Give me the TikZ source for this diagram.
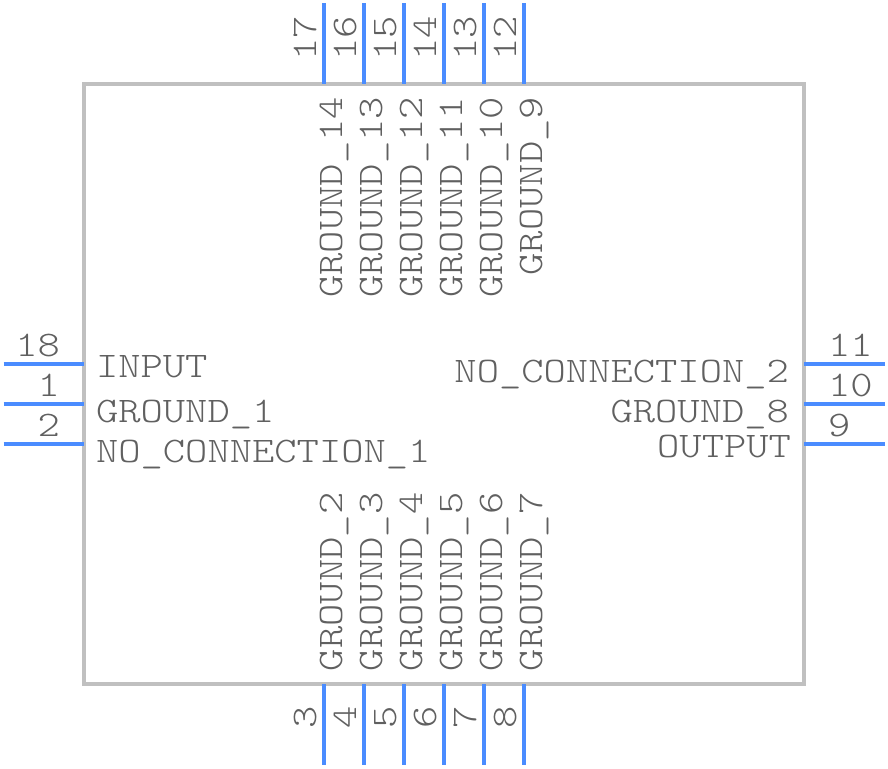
\documentclass[tikz,border=0pt]{standalone}
\usepackage{fontspec}
\usepackage{xcolor}
\usetikzlibrary{positioning}
\definecolor{pinblue}{HTML}{4A8CFF}
\definecolor{bodygray}{HTML}{C0C0C0}
\definecolor{textgray}{HTML}{606060}
\newfontfamily\pinfam[FakeStretch=1.18]{Latin Modern Mono Light}
\newcommand{\pinfont}{\pinfam\fontsize{36}{36}\selectfont}

\begin{document}
\begin{tikzpicture}[
        x=1pt, y=-1pt,
        body/.style={rectangle, draw=bodygray, line width=4pt, minimum width=720pt, minimum height=600pt, outer sep=0pt},
        pin/.style={draw=pinblue, line width=4pt},
        label/.style={text=textgray, font=\pinfont, inner sep=0pt, outer sep=0pt},
        upbegin/.style={label, rotate=90, anchor=base west},
        upend/.style={label, rotate=90, anchor=base east},
        leftlab/.style={label, anchor=base west},
        rightlab/.style={label, anchor=base east},
    ]
        \useasboundingbox (0,0) rectangle (888,768);

        % Package outline
        \node[body] (pkg) at (444,384) {};

        % Free pin ends
        \coordinate (t17) at (324,3.5);
        \coordinate (t16) at (364,3.5);
        \coordinate (t15) at (404,3.5);
        \coordinate (t14) at (444,3.5);
        \coordinate (t13) at (484,3.5);
        \coordinate (t12) at (524,3.5);
        \coordinate (b3) at (324,764.5);
        \coordinate (b4) at (364,764.5);
        \coordinate (b5) at (404,764.5);
        \coordinate (b6) at (444,764.5);
        \coordinate (b7) at (484,764.5);
        \coordinate (b8) at (524,764.5);
        \coordinate (l18) at (3.5,364);
        \coordinate (l1) at (3.5,404);
        \coordinate (l2) at (3.5,444);
        \coordinate (r11) at (884.5,364);
        \coordinate (r10) at (884.5,404);
        \coordinate (r9) at (884.5,444);

        % Pins
        \draw[pin] (t17) -- (t17 |- pkg.north);
        \draw[pin] (t16) -- (t16 |- pkg.north);
        \draw[pin] (t15) -- (t15 |- pkg.north);
        \draw[pin] (t14) -- (t14 |- pkg.north);
        \draw[pin] (t13) -- (t13 |- pkg.north);
        \draw[pin] (t12) -- (t12 |- pkg.north);
        \draw[pin] (b3) -- (b3 |- pkg.south);
        \draw[pin] (b4) -- (b4 |- pkg.south);
        \draw[pin] (b5) -- (b5 |- pkg.south);
        \draw[pin] (b6) -- (b6 |- pkg.south);
        \draw[pin] (b7) -- (b7 |- pkg.south);
        \draw[pin] (b8) -- (b8 |- pkg.south);
        \draw[pin] (l18) -- (l18 -| pkg.west);
        \draw[pin] (l1) -- (l1 -| pkg.west);
        \draw[pin] (l2) -- (l2 -| pkg.west);
        \draw[pin] (r11) -- (r11 -| pkg.east);
        \draw[pin] (r10) -- (r10 -| pkg.east);
        \draw[pin] (r9) -- (r9 -| pkg.east);

        % Pin numbers
        \node[upend] (n17) at (316,16) {17};
        \node[upend] (n16) at (356,16) {16};
        \node[upend] (n15) at (396,16) {15};
        \node[upend] (n14) at (436,16) {14};
        \node[upend] (n13) at (476,16) {13};
        \node[upend] (n12) at (516,16) {12};
        \node[upbegin] (n3) at (316,728) {3};
        \node[upbegin] (n4) at (356,728) {4};
        \node[upbegin] (n5) at (396,728) {5};
        \node[upbegin] (n6) at (436,728) {6};
        \node[upbegin] (n7) at (476,728) {7};
        \node[upbegin] (n8) at (516,728) {8};
        \node[rightlab] (n18) at (60,356) {18};
        \node[rightlab] (n1) at (60,396) {1};
        \node[rightlab] (n2) at (60,436) {2};
        \node[leftlab] (n11) at (828,356) {11};
        \node[leftlab] (n10) at (828,396) {10};
        \node[leftlab] (n9) at (828,436) {9};

        % Top signal names
        \node[upend] (g14) at (342,97) {GROUND\_14};
        \node[upend] (g13) at (382,97) {GROUND\_13};
        \node[upend] (g12) at (422,97) {GROUND\_12};
        \node[upend] (g11) at (462,97) {GROUND\_11};
        \node[upend] (g10) at (502,97) {GROUND\_10};
        \node[upend] (g9) at (542,97) {GROUND\_9};

        % Bottom signal names
        \node[upbegin] (g2) at (342,671) {GROUND\_2};
        \node[upbegin] (g3) at (382,671) {GROUND\_3};
        \node[upbegin] (g4) at (422,671) {GROUND\_4};
        \node[upbegin] (g5) at (462,671) {GROUND\_5};
        \node[upbegin] (g6) at (502,671) {GROUND\_6};
        \node[upbegin] (g7) at (542,671) {GROUND\_7};

        % Side signal names
        \node[leftlab] (input) at (96,377) {INPUT};
        \node[leftlab] (g1) at (96,422) {GROUND\_1};
        \node[leftlab] (nc1) at (96,462) {NO\_CONNECTION\_1};
        \node[rightlab] (nc2) at (789,382) {NO\_CONNECTION\_2};
        \node[rightlab] (g8) at (789,422) {GROUND\_8};
        \node[rightlab] (output) at (791,457) {OUTPUT};
    \end{tikzpicture}
\end{document}
